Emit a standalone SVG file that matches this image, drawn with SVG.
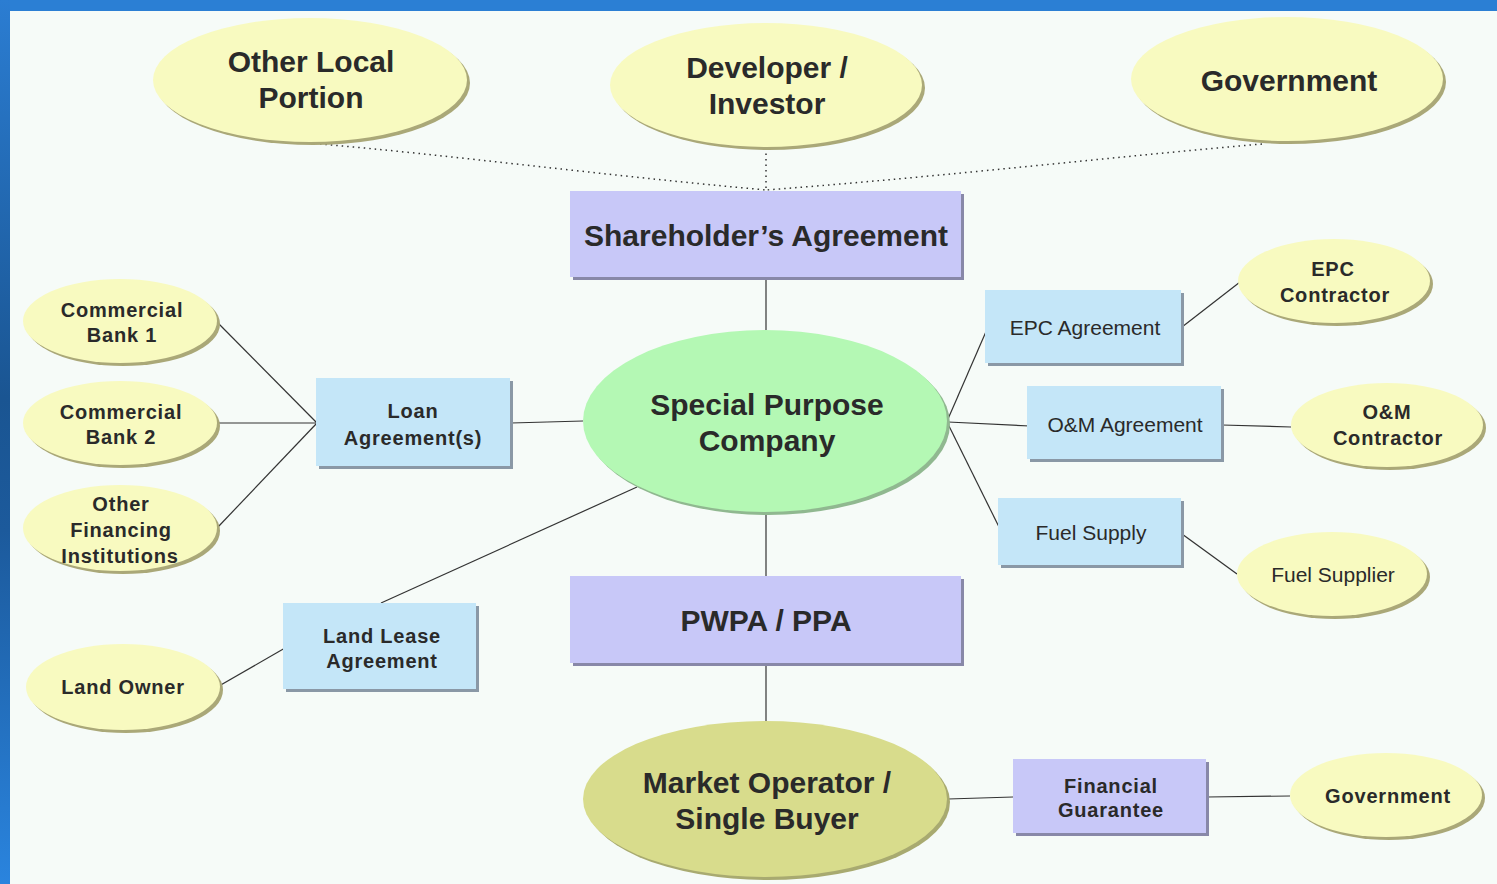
<svg xmlns="http://www.w3.org/2000/svg" width="1497" height="884" viewBox="0 0 1497 884">
<defs>
<linearGradient id="lg" x1="0" y1="0" x2="0" y2="1">
<stop offset="0" stop-color="#2b7dd2"/>
<stop offset="0.45" stop-color="#1a5592"/>
<stop offset="0.6" stop-color="#1c5a9c"/>
<stop offset="1" stop-color="#2a84de"/>
</linearGradient>
<style>
.yel{fill:#f8fac0}
.ysh{fill:#aaa878}
.blu{fill:#c4e6f8}
.bsh{fill:#8a98a6}
.lav{fill:#c8c8f8}
.lsh{fill:#8888a8}
.con{stroke:#333;stroke-width:1.2;fill:none}
.dot{stroke:#333;stroke-width:1.5;fill:none;stroke-dasharray:1.5 4}
text{font-family:"Liberation Sans",Arial,sans-serif;fill:#2a2a2a;text-anchor:middle}
.b30{font-size:30px;font-weight:bold}
.b20{font-size:20px;font-weight:bold;letter-spacing:0.8px}
.r21{font-size:21px}
</style>
</defs>
<rect x="0" y="0" width="1497" height="884" fill="#f6fbf8"/>
<rect x="0" y="0" width="1497" height="11" fill="#2b7fd4"/>
<rect x="0" y="0" width="10" height="884" fill="url(#lg)"/>

<g id="connectors">
<path class="dot" d="M766,148 L766,191"/>
<path class="dot" d="M320,144 C450,155 600,175 766,190"/>
<path class="dot" d="M1262,144 C1100,158 950,176 766,190"/>
<path class="con" d="M766,278 L766,330"/>
<path class="con" d="M766,513 L766,576"/>
<path class="con" d="M766,665 L766,721"/>
<path class="con" d="M948,799 L1013,797"/>
<path class="con" d="M1207,797 L1290,796"/>
<path class="con" d="M217,322 L317,423"/>
<path class="con" d="M218,423 L317,423"/>
<path class="con" d="M218,527 L317,423"/>
<path class="con" d="M511,423 L583,421"/>
<path class="con" d="M637,487 L381,603"/>
<path class="con" d="M285,648 L219,686"/>
<path class="con" d="M948,419 L988,327"/>
<path class="con" d="M948,422 L1030,426"/>
<path class="con" d="M948,424 L1002,533"/>
<path class="con" d="M1182,327 L1240,282"/>
<path class="con" d="M1222,425 L1291,427"/>
<path class="con" d="M1182,534 L1237,574"/>
</g>

<g id="other-local">
<ellipse cx="313" cy="83" rx="157" ry="62" class="ysh"/>
<ellipse cx="310" cy="80" rx="157" ry="62" class="yel"/>
<text class="b30" x="311" y="72">Other Local</text>
<text class="b30" x="311" y="108">Portion</text>
</g>

<g id="developer">
<ellipse cx="769" cy="88" rx="156" ry="62" class="ysh"/>
<ellipse cx="766" cy="85" rx="156" ry="62" class="yel"/>
<text class="b30" x="767" y="78">Developer /</text>
<text class="b30" x="767" y="114">Investor</text>
</g>

<g id="government-top">
<ellipse cx="1290" cy="82" rx="156" ry="62" class="ysh"/>
<ellipse cx="1287" cy="79" rx="156" ry="62" class="yel"/>
<text class="b30" x="1289" y="91">Government</text>
</g>

<g id="shareholders">
<rect x="573" y="194" width="391" height="86" class="lsh"/>
<rect x="570" y="191" width="391" height="86" class="lav"/>
<text class="b30" x="766" y="246">Shareholder’s Agreement</text>
</g>

<g id="bank1">
<ellipse cx="123" cy="324" rx="97" ry="42" class="ysh"/>
<ellipse cx="120" cy="321" rx="97" ry="42" class="yel"/>
<text class="b20" x="122" y="317">Commercial</text>
<text class="b20" x="122" y="342">Bank 1</text>
</g>

<g id="bank2">
<ellipse cx="123" cy="426" rx="97" ry="42" class="ysh"/>
<ellipse cx="120" cy="423" rx="97" ry="42" class="yel"/>
<text class="b20" x="121" y="419">Commercial</text>
<text class="b20" x="121" y="444">Bank 2</text>
</g>

<g id="other-financing">
<ellipse cx="123" cy="531" rx="97" ry="43" class="ysh"/>
<ellipse cx="120" cy="528" rx="97" ry="43" class="yel"/>
<text class="b20" x="121" y="511">Other</text>
<text class="b20" x="121" y="537">Financing</text>
<text class="b20" x="120" y="563">Institutions</text>
</g>

<g id="loan">
<rect x="319" y="381" width="194" height="88" class="bsh"/>
<rect x="316" y="378" width="194" height="88" class="blu"/>
<text class="b20" x="413" y="418">Loan</text>
<text class="b20" x="413" y="445">Agreement(s)</text>
</g>

<g id="spc">
<ellipse cx="768" cy="424" rx="182" ry="91" fill="#90b890"/>
<ellipse cx="765" cy="421" rx="182" ry="91" fill="#b4f8b4"/>
<text class="b30" x="767" y="415">Special Purpose</text>
<text class="b30" x="767" y="451">Company</text>
</g>

<g id="epc-agreement">
<rect x="988" y="293" width="196" height="73" class="bsh"/>
<rect x="985" y="290" width="196" height="73" class="blu"/>
<text class="r21" x="1085" y="335">EPC Agreement</text>
</g>

<g id="epc-contractor">
<ellipse cx="1337" cy="284" rx="96" ry="42" class="ysh"/>
<ellipse cx="1334" cy="281" rx="96" ry="42" class="yel"/>
<text class="b20" x="1333" y="276">EPC</text>
<text class="b20" x="1335" y="302">Contractor</text>
</g>

<g id="om-agreement">
<rect x="1030" y="389" width="194" height="73" class="bsh"/>
<rect x="1027" y="386" width="194" height="73" class="blu"/>
<text class="r21" x="1125" y="432">O&amp;M Agreement</text>
</g>

<g id="om-contractor">
<ellipse cx="1390" cy="428" rx="96" ry="42" class="ysh"/>
<ellipse cx="1387" cy="425" rx="96" ry="42" class="yel"/>
<text class="b20" x="1387" y="419">O&amp;M</text>
<text class="b20" x="1388" y="445">Contractor</text>
</g>

<g id="fuel-supply">
<rect x="1001" y="501" width="183" height="67" class="bsh"/>
<rect x="998" y="498" width="183" height="67" class="blu"/>
<text class="r21" x="1091" y="540">Fuel Supply</text>
</g>

<g id="fuel-supplier">
<ellipse cx="1335" cy="577" rx="95" ry="42" class="ysh"/>
<ellipse cx="1332" cy="574" rx="95" ry="42" class="yel"/>
<text class="r21" x="1333" y="582">Fuel Supplier</text>
</g>

<g id="land-lease">
<rect x="286" y="606" width="193" height="86" class="bsh"/>
<rect x="283" y="603" width="193" height="86" class="blu"/>
<text class="b20" x="382" y="643">Land Lease</text>
<text class="b20" x="382" y="668">Agreement</text>
</g>

<g id="land-owner">
<ellipse cx="126" cy="690" rx="97" ry="43" class="ysh"/>
<ellipse cx="123" cy="687" rx="97" ry="43" class="yel"/>
<text class="b20" x="123" y="694">Land Owner</text>
</g>

<g id="pwpa">
<rect x="573" y="579" width="391" height="87" class="lsh"/>
<rect x="570" y="576" width="391" height="87" class="lav"/>
<text class="b30" x="766" y="631">PWPA / PPA</text>
</g>

<g id="market-operator">
<ellipse cx="768" cy="802" rx="182" ry="78" fill="#a8aa70"/>
<ellipse cx="765" cy="799" rx="182" ry="78" fill="#d8dc8c"/>
<text class="b30" x="767" y="793">Market Operator /</text>
<text class="b30" x="767" y="829">Single Buyer</text>
</g>

<g id="financial-guarantee">
<rect x="1016" y="762" width="193" height="74" class="lsh"/>
<rect x="1013" y="759" width="193" height="74" class="lav"/>
<text class="b20" x="1111" y="793">Financial</text>
<text class="b20" x="1111" y="817">Guarantee</text>
</g>

<g id="government-bottom">
<ellipse cx="1389" cy="798" rx="96" ry="42" class="ysh"/>
<ellipse cx="1386" cy="795" rx="96" ry="42" class="yel"/>
<text class="b20" x="1388" y="803">Government</text>
</g>
</svg>
